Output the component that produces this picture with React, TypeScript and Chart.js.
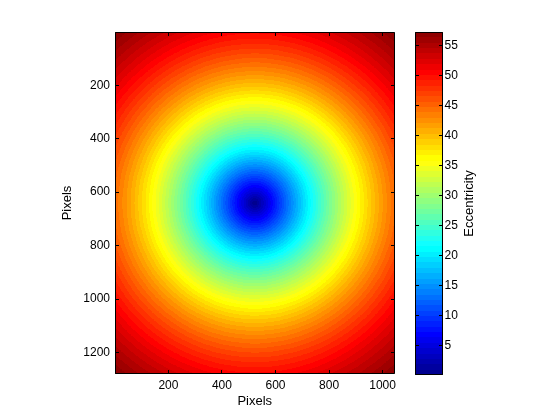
import React, { useEffect, useRef } from "react";
import { Chart, registerables } from "chart.js";

Chart.register(...registerables);

// ---------- values ----------
const IMAGE_WIDTH = 1044; // image extent along x, pixels
const IMAGE_HEIGHT = 1280; // image extent along y, pixels
const VIEW_DISTANCE = 530; // viewing distance, in pixel units (eccentricity = atan(r / d))
const X_TICKS = [200, 400, 600, 800, 1000];
const Y_TICKS = [200, 400, 600, 800, 1000, 1200];
const CBAR_TICKS = [5, 10, 15, 20, 25, 30, 35, 40, 45, 50, 55];
const X_TITLE = "Pixels";
const Y_TITLE = "Pixels";
const CBAR_TITLE = "Eccentricity";
const N_COLORS = 64;

const FONT = "'Liberation Sans', Arial, Helvetica, sans-serif";

function jetColormap(m: number): number[][] {
  const n = Math.max(Math.round(m / 4), 1);
  const x: number[] = [];
  for (let k = 1; k <= n; k++) x.push(k / n);
  const y: number[] = [];
  for (let k = n / 2; k <= n; k++) y.push(k / n);
  const e = x.map(() => 1);
  const zero = (a: number[]) => a.map(() => 0);
  const fx = [...x].reverse();
  const fy = [...y].reverse();
  const r = [...zero(y), ...zero(e), ...x, ...e, ...fy];
  const g = [...zero(y), ...x, ...e, ...fx, ...zero(y)];
  const b = [...y, ...e, ...fx, ...zero(e), ...zero(y)];
  const rows = r.map((v, i) => [v, g[i], b[i]]);
  while (rows.length > m) {
    rows.shift();
    if (rows.length > m) rows.pop();
  }
  return rows;
}

function computeEccentricity() {
  const cx = (IMAGE_WIDTH + 1) / 2;
  const cy = (IMAGE_HEIGHT + 1) / 2;
  const vals = new Float32Array(IMAGE_WIDTH * IMAGE_HEIGHT);
  let min = Infinity;
  let max = -Infinity;
  for (let row = 0; row < IMAGE_HEIGHT; row++) {
    const dy = row + 1 - cy;
    for (let col = 0; col < IMAGE_WIDTH; col++) {
      const dx = col + 1 - cx;
      const v = (Math.atan(Math.sqrt(dx * dx + dy * dy) / VIEW_DISTANCE) * 180) / Math.PI;
      vals[row * IMAGE_WIDTH + col] = v;
      if (v < min) min = v;
      if (v > max) max = v;
    }
  }
  return { vals, min, max };
}

export default function App() {
  const mainRef = useRef<HTMLCanvasElement>(null);
  const cbRef = useRef<HTMLCanvasElement>(null);

  useEffect(() => {
    const cmap = jetColormap(N_COLORS);
    const { vals, min: cmin, max: cmax } = computeEccentricity();

    // field image
    const img = document.createElement("canvas");
    img.width = IMAGE_WIDTH;
    img.height = IMAGE_HEIGHT;
    const ictx = img.getContext("2d")!;
    const id = ictx.createImageData(IMAGE_WIDTH, IMAGE_HEIGHT);
    for (let k = 0; k < vals.length; k++) {
      let idx = Math.floor(((vals[k] - cmin) / (cmax - cmin)) * N_COLORS);
      if (idx > N_COLORS - 1) idx = N_COLORS - 1;
      if (idx < 0) idx = 0;
      const c = cmap[idx];
      id.data[k * 4] = Math.round(c[0] * 255);
      id.data[k * 4 + 1] = Math.round(c[1] * 255);
      id.data[k * 4 + 2] = Math.round(c[2] * 255);
      id.data[k * 4 + 3] = 255;
    }
    ictx.putImageData(id, 0, 0);

    // colorbar image (top = highest value)
    const cbImg = document.createElement("canvas");
    cbImg.width = 1;
    cbImg.height = N_COLORS;
    const cctx = cbImg.getContext("2d")!;
    const cid = cctx.createImageData(1, N_COLORS);
    for (let i = 0; i < N_COLORS; i++) {
      const c = cmap[N_COLORS - 1 - i];
      cid.data[i * 4] = Math.round(c[0] * 255);
      cid.data[i * 4 + 1] = Math.round(c[1] * 255);
      cid.data[i * 4 + 2] = Math.round(c[2] * 255);
      cid.data[i * 4 + 3] = 255;
    }
    cctx.putImageData(cid, 0, 0);

    const TICK_LEN = 3.5;

    const heatmapPlugin = {
      id: "heatmap",
      beforeDatasetsDraw(chart: any) {
        const { ctx, chartArea: ca, scales } = chart;
        const xs = scales.x;
        const ys = scales.y;
        const x0 = xs.getPixelForValue(0.5);
        const x1 = xs.getPixelForValue(IMAGE_WIDTH + 0.5);
        const y0 = ys.getPixelForValue(0.5);
        const y1 = ys.getPixelForValue(IMAGE_HEIGHT + 0.5);
        ctx.save();
        ctx.beginPath();
        ctx.rect(ca.left, ca.top, ca.width, ca.height);
        ctx.clip();
        ctx.imageSmoothingEnabled = false;
        ctx.drawImage(img, x0, y0, x1 - x0, y1 - y0);
        ctx.restore();
      },
      afterDraw(chart: any) {
        const { ctx, chartArea: ca, scales } = chart;
        const l = Math.floor(ca.left) + 0.5;
        const r = Math.floor(ca.right - 0.5) + 0.5;
        const t = Math.floor(ca.top) + 0.5;
        const b = Math.floor(ca.bottom - 0.5) + 0.5;
        ctx.save();
        ctx.strokeStyle = "#000";
        ctx.lineWidth = 1;
        ctx.beginPath();
        for (const v of X_TICKS) {
          const p = Math.floor(scales.x.getPixelForValue(v)) + 0.5;
          ctx.moveTo(p, b);
          ctx.lineTo(p, b - TICK_LEN);
          ctx.moveTo(p, t);
          ctx.lineTo(p, t + TICK_LEN);
        }
        for (const v of Y_TICKS) {
          const p = Math.floor(scales.y.getPixelForValue(v)) + 0.5;
          ctx.moveTo(l, p);
          ctx.lineTo(l + TICK_LEN, p);
          ctx.moveTo(r, p);
          ctx.lineTo(r - TICK_LEN, p);
        }
        ctx.moveTo(l, t);
        ctx.lineTo(r, t);
        ctx.lineTo(r, b);
        ctx.lineTo(l, b);
        ctx.closePath();
        ctx.stroke();
        ctx.restore();
      },
    };

    const main = new Chart(mainRef.current!, {
      type: "scatter",
      data: { datasets: [{ data: [] }] },
      options: {
        responsive: false,
        animation: false,
        events: [],
        layout: { padding: { left: 0, top: 32, right: 165.5, bottom: 0 } },
        plugins: { legend: { display: false }, tooltip: { enabled: false } },
        scales: {
          x: {
            type: "linear",
            position: "bottom",
            min: 0.5,
            max: IMAGE_WIDTH + 0.5,
            grid: { display: false, drawTicks: false },
            border: { display: false },
            ticks: {
              color: "#000",
              font: { family: FONT, size: 12 },
              padding: 4,
              autoSkip: false,
              maxRotation: 0,
              callback: (v: any) => String(v),
            },
            afterBuildTicks: (s: any) => {
              s.ticks = X_TICKS.map((v) => ({ value: v }));
            },
            afterFit: (s: any) => {
              s.height = 46;
            },
            title: {
              display: true,
              text: X_TITLE,
              color: "#000",
              font: { family: FONT, size: 13 },
              padding: { top: 0, bottom: 10.5 },
            },
          },
          y: {
            type: "linear",
            position: "left",
            reverse: true,
            min: 0.5,
            max: IMAGE_HEIGHT + 0.5,
            grid: { display: false, drawTicks: false },
            border: { display: false },
            ticks: {
              color: "#000",
              font: { family: FONT, size: 12 },
              padding: 5,
              autoSkip: false,
              callback: (v: any) => String(v),
            },
            afterBuildTicks: (s: any) => {
              s.ticks = Y_TICKS.map((v) => ({ value: v }));
            },
            afterFit: (s: any) => {
              s.width = 115;
            },
            title: {
              display: true,
              text: Y_TITLE,
              color: "#000",
              font: { family: FONT, size: 13 },
              padding: { top: 60, bottom: 0 },
            },
          },
        },
      },
      plugins: [heatmapPlugin],
    } as any);

    const colorbarPlugin = {
      id: "colorbar",
      beforeDatasetsDraw(chart: any) {
        const { ctx, chartArea: ca, scales } = chart;
        const yTop = scales.y.getPixelForValue(cmax);
        const yBot = scales.y.getPixelForValue(cmin);
        ctx.save();
        ctx.imageSmoothingEnabled = false;
        ctx.drawImage(cbImg, ca.left, yTop, ca.width, yBot - yTop);
        ctx.restore();
      },
      afterDraw(chart: any) {
        const { ctx, chartArea: ca, scales } = chart;
        const l = Math.floor(ca.left) + 0.5;
        const r = Math.floor(ca.right - 0.5) + 0.5;
        const t = Math.floor(ca.top) + 0.5;
        const b = Math.floor(ca.bottom - 0.5) + 0.5;
        ctx.save();
        ctx.strokeStyle = "#000";
        ctx.lineWidth = 1;
        ctx.beginPath();
        for (const v of CBAR_TICKS) {
          const p = Math.floor(scales.y.getPixelForValue(v)) + 0.5;
          ctx.moveTo(l, p);
          ctx.lineTo(l + TICK_LEN, p);
          ctx.moveTo(r, p);
          ctx.lineTo(r - TICK_LEN, p);
        }
        ctx.moveTo(l, t);
        ctx.lineTo(r, t);
        ctx.lineTo(r, b);
        ctx.lineTo(l, b);
        ctx.closePath();
        ctx.stroke();
        // colorbar label, reading bottom-to-top
        ctx.fillStyle = "#000";
        ctx.font = `13px ${FONT}`;
        ctx.textAlign = "center";
        ctx.textBaseline = "middle";
        ctx.translate(ca.right + 26.5, (ca.top + ca.bottom) / 2);
        ctx.rotate(-Math.PI / 2);
        ctx.fillText(CBAR_TITLE, 0, 0);
        ctx.restore();
      },
    };

    const cb = new Chart(cbRef.current!, {
      type: "scatter",
      data: { datasets: [{ data: [] }] },
      options: {
        responsive: false,
        animation: false,
        events: [],
        layout: { padding: { left: 415, top: 32, right: 0, bottom: 45 } },
        plugins: { legend: { display: false }, tooltip: { enabled: false } },
        scales: {
          x: { type: "linear", display: false, min: 0, max: 1 },
          y: {
            type: "linear",
            position: "right",
            min: cmin,
            max: cmax,
            grid: { display: false, drawTicks: false },
            border: { display: false },
            ticks: {
              color: "#000",
              font: { family: FONT, size: 12 },
              padding: 1.5,
              autoSkip: false,
              callback: (v: any) => String(v),
            },
            afterBuildTicks: (s: any) => {
              s.ticks = CBAR_TICKS.map((v) => ({ value: v }));
            },
            afterFit: (s: any) => {
              s.width = 117;
            },
          },
        },
      },
      plugins: [colorbarPlugin],
    } as any);

    return () => {
      main.destroy();
      cb.destroy();
    };
  }, []);

  return (
    <div
      style={{
        position: "fixed",
        left: 0,
        top: 0,
        width: 560,
        height: 420,
        background: "#fff",
        overflow: "hidden",
      }}
    >
      <canvas
        ref={mainRef}
        width={560}
        height={420}
        style={{ position: "absolute", left: 0, top: 0, width: 560, height: 420 }}
      />
      <canvas
        ref={cbRef}
        width={560}
        height={420}
        style={{ position: "absolute", left: 0, top: 0, width: 560, height: 420 }}
      />
    </div>
  );
}
